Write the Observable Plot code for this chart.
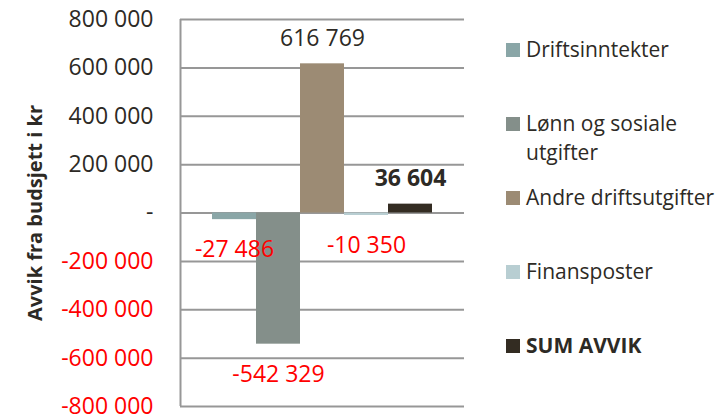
<!DOCTYPE html>
<html><head><meta charset="utf-8">
<script src="https://cdn.jsdelivr.net/npm/d3@7"></script>
<script src="https://cdn.jsdelivr.net/npm/@observablehq/plot@0.6"></script>
<style>
body{margin:0;background:#fff;}
#wrap{position:relative;width:728px;height:417px;font-family:"Open Sans",sans-serif;overflow:hidden;}
#wrap svg{position:absolute;left:0;top:0;}
.leg{position:absolute;left:506px;font-size:21px;color:#2d2a25;line-height:29px;}
.sw{position:absolute;left:0;top:8.5px;width:14px;height:14px;}
.lt{position:absolute;left:20px;top:0;white-space:pre;}
</style></head><body><div id="wrap"></div>
<script>
const categories = ["Driftsinntekter","Lønn og sosiale utgifter","Andre driftsutgifter","Finansposter","SUM AVVIK"];
const values = [-27486, -542329, 616769, -10350, 36604];
const colors = ["#8aa6a7","#848f8a","#9c8b74","#b8ced2","#332c22"];
const yTicks = [800000, 600000, 400000, 200000, 0, -200000, -400000, -600000, -800000];
const legendLabels = ["Driftsinntekter","Lønn og sosiale\nutgifter","Andre driftsutgifter","Finansposter","SUM AVVIK"];
const yTitle = "Avvik fra budsjett i kr";

const data = categories.map((c, i) => ({cat: c, value: values[i]}));
const fmt = v => v === 0 ? "-" : (v < 0 ? "-" : "") + d3.format(",")(Math.abs(v)).replace(/,/g, " ");
const dark = "#2d2a25";
const grid = "#979797";
const W = 728, H = 417, ML = 180, MR = 264, PO = 0.727;
const step = (W - ML - MR) / (categories.length + 2 * PO);

const plot = Plot.plot({
  width: W, height: H,
  marginLeft: ML, marginRight: MR, marginTop: 19, marginBottom: 11,
  x: {domain: categories, paddingInner: 0, paddingOuter: PO, axis: null},
  y: {domain: [-800000, 800000], axis: null},
  color: {domain: categories, range: colors},
  style: {fontFamily: "'Open Sans', sans-serif", background: "white", overflow: "visible"},
  marks: [
    Plot.ruleY(yTicks, {stroke: grid, strokeWidth: 2}),
    Plot.ruleX([categories[0]], {y1: -800000, y2: 800000, dx: -(PO * step + step / 2), stroke: grid, strokeWidth: 2}),
    Plot.barY(data, {x: "cat", y: "value", fill: "cat"}),
    Plot.text(yTicks.filter(d => d >= 0), {y: d => d, text: fmt, frameAnchor: "left", dx: -27, textAnchor: "end", fill: dark, fontSize: 23}),
    Plot.text(yTicks.filter(d => d < 0), {y: d => d, text: fmt, frameAnchor: "left", dx: -27, textAnchor: "end", fill: "#ff0000", fontSize: 23}),
    Plot.text(data.filter(d => d.value < 0), {x: "cat", y: "value", text: d => fmt(d.value), dy: 30, fill: "#ff0000", fontSize: 23}),
    Plot.text(data.filter(d => d.value > 0 && d.cat !== "SUM AVVIK"), {x: "cat", y: "value", text: d => fmt(d.value), dy: -25, fill: dark, fontSize: 23}),
    Plot.text(data.filter(d => d.cat === "SUM AVVIK"), {x: "cat", y: "value", text: d => fmt(d.value), dy: -26, fill: dark, fontSize: 23, fontWeight: "bold"}),
    Plot.text([yTitle], {frameAnchor: "left", textAnchor: "middle", dx: -145, rotate: -90, fontWeight: "bold", fontSize: 20, fill: dark})
  ]
});
const wrap = document.getElementById("wrap");
wrap.appendChild(plot);

legendLabels.forEach((lab, i) => {
  const item = document.createElement("div");
  item.className = "leg";
  item.style.top = (50 + i * 74 - 15.5) + "px";
  if (categories[i] === "SUM AVVIK") item.style.fontWeight = "bold";
  const sw = document.createElement("div");
  sw.className = "sw";
  sw.style.background = colors[i];
  const t = document.createElement("div");
  t.className = "lt";
  t.textContent = lab;
  item.appendChild(sw);
  item.appendChild(t);
  wrap.appendChild(item);
});
</script></body></html>
